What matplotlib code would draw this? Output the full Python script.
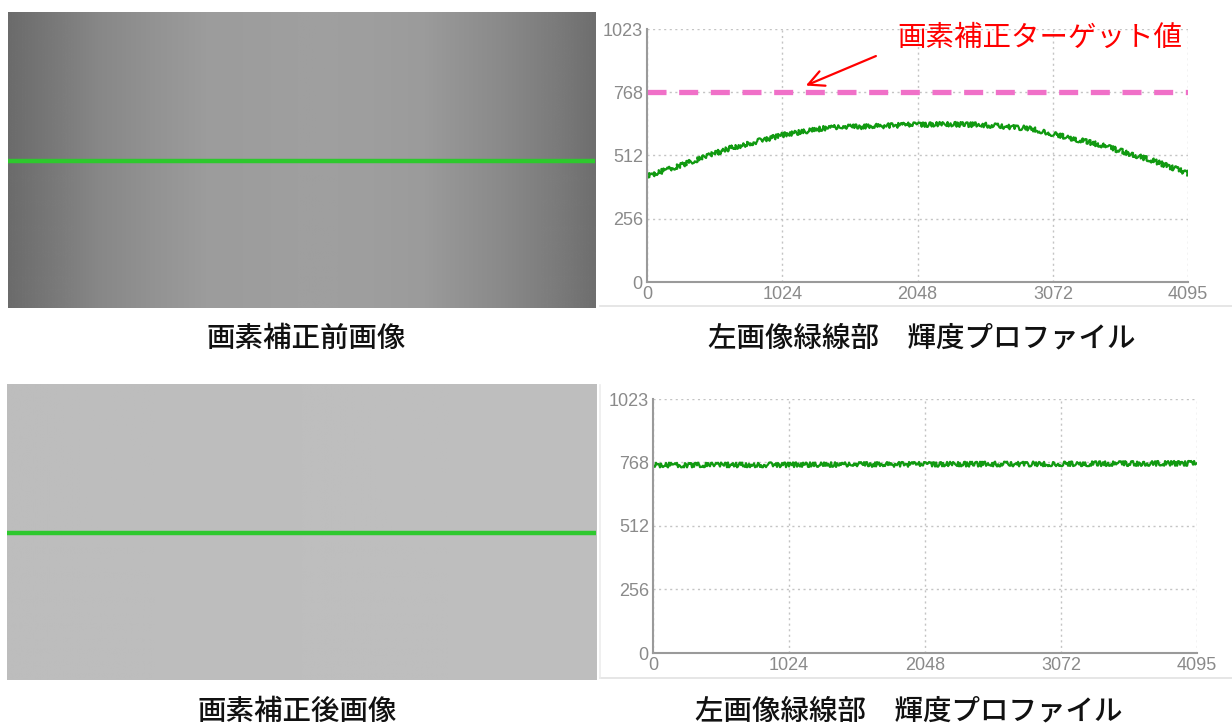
import numpy as np
import matplotlib
matplotlib.use("Agg")
import matplotlib.pyplot as plt
from matplotlib.lines import Line2D
from matplotlib.image import NonUniformImage

plt.rcParams['font.family'] = ['Noto Sans CJK JP', 'DejaVu Sans']

# luminance profile along the green line (10-bit values)
before_x = [0, 372, 622, 1024, 1380, 1638, 2018, 2298, 2549, 2905, 3080, 3436, 3815, 4095]
before_y = [428, 493, 540, 594, 625, 628, 636, 638, 635, 621, 598, 554, 493, 440]
after_x = [0, 1024, 2048, 3072, 4095]
after_y = [757, 758, 760, 762, 764]
target = 768

x_ticks = [0, 1024, 2048, 3072, 4095]
y_ticks = [0, 256, 512, 768, 1023]

captions = ["画素補正前画像", "左画像緑線部　輝度プロファイル",
            "画素補正後画像", "左画像緑線部　輝度プロファイル"]
target_label = "画素補正ターゲット値"

W, H = 1232, 724
fig = plt.figure(figsize=(W / 100, H / 100), dpi=100)


def box(x0, y0, x1, y1):
    # pixel box -> figure fraction rect
    return [x0 / W, 1 - y1 / H, (x1 - x0) / W, (y1 - y0) / H]


def draw_image(rect, xs, ys):
    # the camera image: every row has the same brightness profile
    ax = fig.add_axes(rect)
    im = NonUniformImage(ax, interpolation='bilinear', cmap='gray')
    im.set_data(np.array(xs, float), np.array([0.0, 1.0]), np.array([ys, ys], float))
    im.set_clim(0, 1023)
    ax.add_image(im)
    ax.axhline(0.5, color='#2ec82e', lw=3.2)
    ax.set_xlim(0, 4095)
    ax.set_ylim(0, 1)
    ax.axis('off')
    return ax


def draw_profile(rect, xs, ys):
    ax = fig.add_axes(rect)
    ax.set_xlim(0, 4095)
    ax.set_ylim(0, 1023)
    ax.set_xticks(x_ticks)
    ax.set_yticks(y_ticks)
    ax.grid(True, color='#c4c4c4', lw=1, linestyle=(0, (1.5, 2.5)))
    for s in ['top', 'right']:
        ax.spines[s].set_visible(False)
    for s in ['left', 'bottom']:
        ax.spines[s].set_color('#9a9a9a')
        ax.spines[s].set_linewidth(1.5)
    ax.tick_params(length=0, pad=3, colors='#8a8a8a', labelsize=13)
    for lab in ax.get_xticklabels() + ax.get_yticklabels():
        lab.set_family(['Liberation Sans Narrow', 'Liberation Sans'])
    line, = ax.plot(xs, ys, color='#119a11', lw=1.6)
    line.set_sketch_params(scale=2.4, length=0.4, randomness=20)
    return ax


draw_image(box(8, 13, 595, 308), before_x, before_y)
draw_image(box(7, 385, 596, 680), after_x, after_y)

ax1 = draw_profile(box(647, 29, 1188, 282), before_x, before_y)
ax1.axhline(target, color='#f070c8', lw=3.8, linestyle=(0, (3.6, 2.4)))
ax1.annotate('', xy=(1183, 790), xytext=(1752, 918),
             arrowprops=dict(arrowstyle='->', color='red', lw=1.6, mutation_scale=28))
fig.text(1040 / W, 1 - 38 / H, target_label, color='red', fontsize=20.5,
         ha='center', va='center')

draw_profile(box(653, 399, 1197, 653), after_x, after_y)

# light panel borders around the profile screenshots
fig.add_artist(Line2D([600 / W, 1], [1 - 306 / H, 1 - 306 / H], color='#e2e2e2', lw=1.2))
fig.add_artist(Line2D([600 / W, 1], [1 - 678 / H, 1 - 678 / H], color='#e2e2e2', lw=1.2))
fig.add_artist(Line2D([600 / W, 600 / W], [1 - 385 / H, 1 - 678 / H], color='#ececec', lw=1.2))

# captions
cap_pos = [(306, 338), (922, 338), (297, 711), (909, 711)]
for txt, (cx, cy) in zip(captions, cap_pos):
    fig.text(cx / W, 1 - cy / H, txt, fontsize=20.5, ha='center', va='center',
             color='#111111', fontweight='medium')

fig.savefig("out.png", dpi=100)
